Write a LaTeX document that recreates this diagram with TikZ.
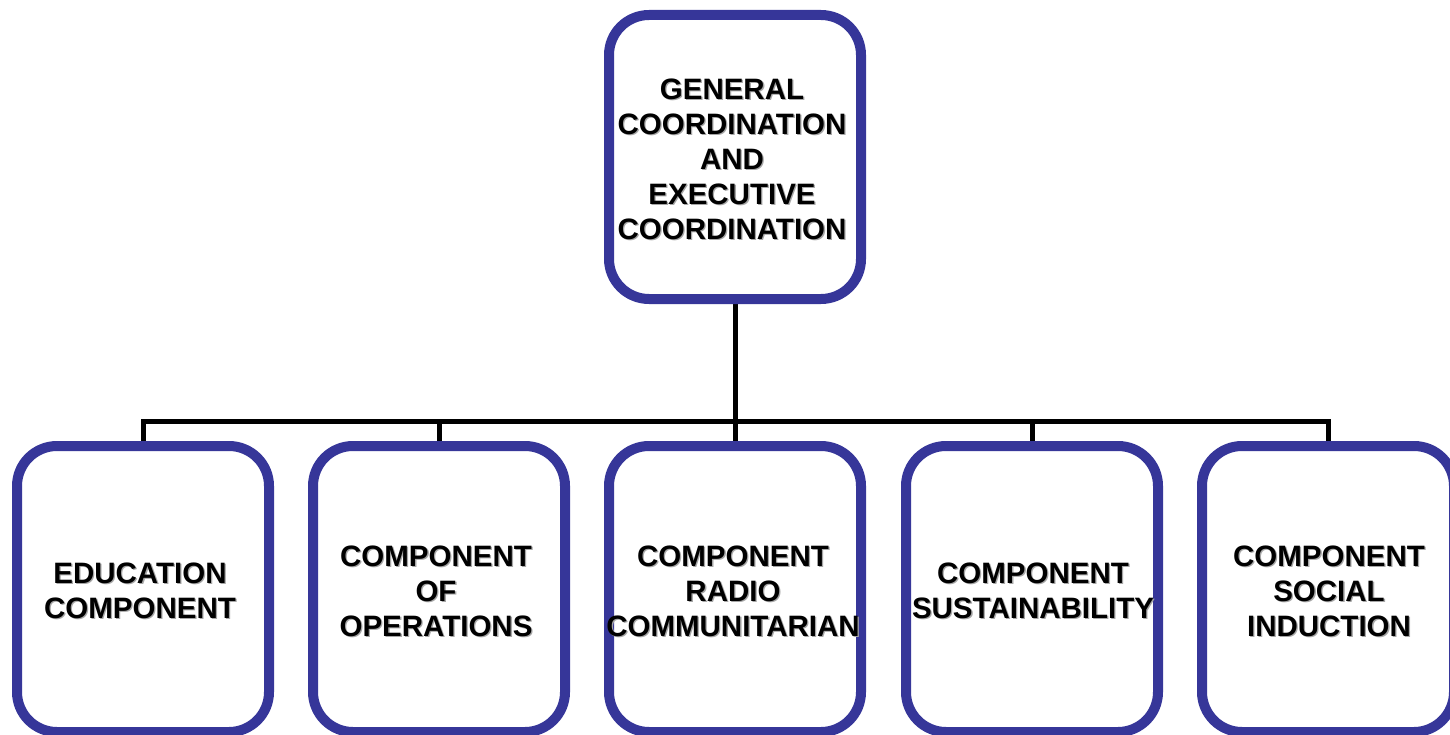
\documentclass[tikz,border=0pt]{standalone}
\usepackage{fontspec}
\setmainfont{Liberation Sans}
\usetikzlibrary{backgrounds}
\definecolor{boxblue}{RGB}{54,54,153}
\tikzset{
  box/.style={draw=boxblue, line width=10pt, rounded corners=40pt, minimum width=252pt, minimum height=286pt, inner sep=0pt, fill=white},
  lbl/.style={align=center, inner sep=0pt, font=\bfseries\fontsize{29.5}{35}\selectfont},
  shade/.style={lbl, text=black!35},
  conn/.style={draw=black, line width=5pt}
}
\begin{document}
\begin{tikzpicture}[x=1pt,y=-1pt]
\useasboundingbox (0,0) rectangle (1450,735);
\node[box, minimum height=284pt] (top) at (735,157) {};
\node[box] (b1) at (143,589) {};
\node[box] (b2) at (439,589) {};
\node[box] (b3) at (735,589) {};
\node[box] (b4) at (1032,589) {};
\node[box] (b5) at (1328,589) {};
\coordinate (bar) at (735,421);
\begin{scope}[on background layer]
\draw[conn] (top.south) -- (bar);
\draw[conn] (b1.north) |- (bar);
\draw[conn] (b2.north) |- (bar);
\draw[conn] (b3.north) -- (bar);
\draw[conn] (b4.north) |- (bar);
\draw[conn] (b5.north) |- (bar);
\end{scope}
% text anchor points
\coordinate (p0) at ([shift={(-3,2)}]top.center);
\coordinate (p1) at ([shift={(-3,2)}]b1.center);
\coordinate (p2) at ([shift={(-3,2)}]b2.center);
\coordinate (p3) at ([shift={(-2,2)}]b3.center);
\coordinate (p4) at ([shift={(1,2)}]b4.center);
\coordinate (p5) at ([shift={(1,2)}]b5.center);
% shadows
\node[shade] (s0) at ([shift={(1.3,1.3)}]p0) {GENERAL\\COORDINATION\\AND\\EXECUTIVE\\COORDINATION};
\node[shade] (s1) at ([shift={(1.3,1.3)}]p1) {EDUCATION\\COMPONENT};
\node[shade] (s2) at ([shift={(1.3,1.3)}]p2) {COMPONENT\\OF\\OPERATIONS};
\node[shade] (s3) at ([shift={(1.3,1.3)}]p3) {COMPONENT\\RADIO\\COMMUNITARIAN};
\node[shade] (s4) at ([shift={(1.3,1.3)}]p4) {COMPONENT\\SUSTAINABILITY};
\node[shade] (s5) at ([shift={(1.3,1.3)}]p5) {COMPONENT\\SOCIAL\\INDUCTION};
% texts
\node[lbl] (t0) at (p0) {GENERAL\\COORDINATION\\AND\\EXECUTIVE\\COORDINATION};
\node[lbl] (t1) at (p1) {EDUCATION\\COMPONENT};
\node[lbl] (t2) at (p2) {COMPONENT\\OF\\OPERATIONS};
\node[lbl] (t3) at (p3) {COMPONENT\\RADIO\\COMMUNITARIAN};
\node[lbl] (t4) at (p4) {COMPONENT\\SUSTAINABILITY};
\node[lbl] (t5) at (p5) {COMPONENT\\SOCIAL\\INDUCTION};
\end{tikzpicture}
\end{document}
